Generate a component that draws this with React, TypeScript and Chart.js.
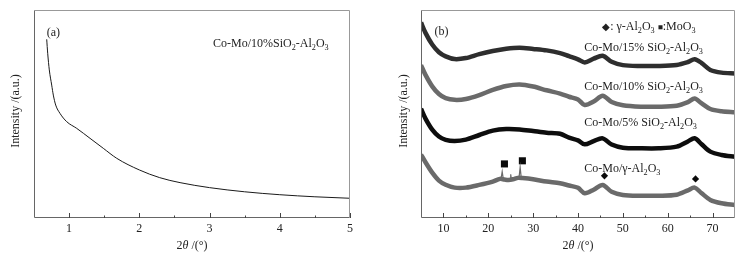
import React, { useEffect, useRef } from 'react';
import { Chart, registerables } from 'chart.js';
Chart.register(...registerables);

// ---------- Panel (a): small-angle XRD ----------
const thetaA = [0.681, 0.695, 0.718, 0.752, 0.775, 0.809, 0.87, 0.966, 1.108, 1.298, 1.487, 1.678, 2.0, 2.29, 2.58, 3.0, 3.5, 4.0, 4.5, 4.99];
const intensityA = [85.9, 79.2, 71.2, 63.9, 59.1, 54.3, 50.3, 46.3, 43.1, 38.3, 33.5, 28.7, 23.1, 19.4, 17.0, 14.6, 12.6, 11.2, 10.2, 9.5];
const majorTicksA = [1, 2, 3, 4, 5];
const minorTicksA = [1.5, 2.5, 3.5, 4.5];

// ---------- Panel (b): wide-angle XRD ----------
const thetaB = [5, 6, 7.5, 9, 10.5, 12.5, 15, 18, 21, 24, 27, 30, 33, 36, 38, 40, 41.5, 43.5, 45.5, 47.5, 50, 54, 58, 62, 64.5, 66, 67.5, 69.5, 72, 75];
const si15 = [94, 89, 83.4, 79.7, 77.7, 76.4, 76.9, 78.8, 80.3, 81.4, 81.9, 81.3, 80.6, 79.3, 77.8, 76.3, 74.8, 76.6, 78, 75.1, 73.5, 73.1, 73.1, 73.6, 75, 76.3, 74.6, 71.2, 69.9, 69.5];
const si10 = [73.5, 68.8, 63.3, 59.6, 57.6, 56.8, 57.2, 59.1, 61.6, 63.5, 64.2, 63.2, 61.4, 59.8, 58.3, 57, 54.3, 56, 58.8, 55.8, 54.2, 53.5, 53.5, 54, 55.7, 57.5, 55.2, 52.4, 51.3, 50.8];
const si5 = [52.5, 47.8, 42.5, 39.2, 37.6, 37, 37.7, 39.9, 42, 42.8, 42.6, 41.8, 41, 40.5, 38.6, 37.3, 35.4, 37, 38.3, 35.3, 33.8, 33.5, 33.5, 34.3, 36.8, 38.3, 35.6, 31.9, 30.3, 29.4];
const thetaG = [5, 6, 7.5, 9, 10.5, 12.5, 15, 18, 21, 22.6, 23.6, 24.5, 25.5, 26.6, 27.6, 30, 33, 36, 38, 40, 41.5, 43.5, 45.5, 47.5, 50, 54, 58, 62, 64.5, 66, 67.5, 69.5, 72, 75];
const gammaAl = [30.5, 26.8, 21.8, 18, 16, 14.6, 14.6, 15.9, 17.5, 18.8, 18.5, 18.3, 18.6, 19.3, 19.2, 18.6, 17.5, 16.7, 15.6, 14.5, 11.9, 13.6, 15.9, 12.6, 11.1, 10.7, 10.7, 11.2, 13.3, 14.6, 12, 8.7, 7.1, 6.2];
// sharp MoO3 reflections on the gamma-Al2O3 pattern (thin spikes)
const spikeX = [22.85, 23.1, 23.35, 24.85, 25.0, 25.15, 26.85, 27.1, 27.35];
const spikeY = [18.9, 22.3, 18.7, 18.4, 21.0, 18.5, 19.3, 24.4, 19.3];
const moo3X = [23.6, 27.6];
const moo3Y = [26, 27.5];
const gammaX = [45.9, 66.2];
const gammaY = [20.3, 18.8];
const majorTicksB = [10, 20, 30, 40, 50, 60, 70];
const minorTicksB = [15, 25, 35, 45, 55, 65];

type Run = { t: string; sub?: boolean; it?: boolean; scale?: number };
type Note = { x: number; y: number; runs: Run[] };

const FONT = '"Liberation Serif", "Times New Roman", serif';
const TEXT = '#222';
const FS = 12;

const notesA: Note[] = [
  { x: 0.68, y: 89.4, runs: [{ t: '(a)' }] },
  { x: 3.05, y: 84.1, runs: [{ t: 'Co-Mo/10%SiO' }, { t: '2', sub: true }, { t: '-Al' }, { t: '2', sub: true }, { t: 'O' }, { t: '3', sub: true }] },
];
const notesB: Note[] = [
  { x: 8.0, y: 90, runs: [{ t: '(b)' }] },
  { x: 45.4, y: 92.5, runs: [{ t: '◆', scale: 0.8 }, { t: ': γ-Al' }, { t: '2', sub: true }, { t: 'O' }, { t: '3', sub: true }, { t: ' ' }, { t: '■', scale: 0.7 }, { t: ':MoO' }, { t: '3', sub: true }] },
  { x: 41.4, y: 82.2, runs: [{ t: 'Co-Mo/15% SiO' }, { t: '2', sub: true }, { t: '-Al' }, { t: '2', sub: true }, { t: 'O' }, { t: '3', sub: true }] },
  { x: 41.4, y: 63.5, runs: [{ t: 'Co-Mo/10% SiO' }, { t: '2', sub: true }, { t: '-Al' }, { t: '2', sub: true }, { t: 'O' }, { t: '3', sub: true }] },
  { x: 41.4, y: 46.2, runs: [{ t: 'Co-Mo/5% SiO' }, { t: '2', sub: true }, { t: '-Al' }, { t: '2', sub: true }, { t: 'O' }, { t: '3', sub: true }] },
  { x: 41.4, y: 24.0, runs: [{ t: 'Co-Mo/γ-Al' }, { t: '2', sub: true }, { t: 'O' }, { t: '3', sub: true }] },
];
const xTitle: Run[] = [{ t: '2' }, { t: 'θ', it: true }, { t: ' /(°)' }];
const yTitle: Run[] = [{ t: 'Intensity /(a.u.)' }];

function drawRuns(ctx: CanvasRenderingContext2D, runs: Run[], x: number, y: number, size: number, align: 'left' | 'center') {
  const fontFor = (r: Run) => `${r.it ? 'italic ' : ''}${(r.sub ? size * 0.68 : size * (r.scale || 1)).toFixed(1)}px ${FONT}`;
  let total = 0;
  const widths = runs.map((r) => {
    ctx.font = fontFor(r);
    const w = ctx.measureText(r.t).width;
    total += w;
    return w;
  });
  let cx = align === 'center' ? x - total / 2 : x;
  ctx.textAlign = 'left';
  ctx.textBaseline = 'alphabetic';
  const base = y + size * 0.33;
  runs.forEach((r, i) => {
    ctx.font = fontFor(r);
    ctx.fillText(r.t, cx, r.sub ? base + size * 0.25 : base);
    cx += widths[i];
  });
}

function makeDecor(notes: Note[], major: number[], minor: number[], yTitleOffset: number) {
  return {
    id: 'decor',
    afterDraw(chart: any) {
      const { ctx, chartArea: a, scales } = chart;
      const xs = scales.x;
      const ys = scales.y;
      ctx.save();
      ctx.lineWidth = 1;
      ctx.strokeStyle = '#999';
      ctx.beginPath();
      ctx.moveTo(a.left + 0.5, a.top + 0.5);
      ctx.lineTo(a.right - 0.5, a.top + 0.5);
      ctx.lineTo(a.right - 0.5, a.bottom - 0.5);
      ctx.stroke();
      ctx.strokeStyle = '#666';
      ctx.beginPath();
      ctx.moveTo(a.left + 0.5, a.top + 0.5);
      ctx.lineTo(a.left + 0.5, a.bottom - 0.5);
      ctx.lineTo(a.right - 0.5, a.bottom - 0.5);
      ctx.stroke();
      ctx.strokeStyle = '#444';
      ctx.beginPath();
      major.forEach((v) => {
        const px = Math.round(xs.getPixelForValue(v)) + 0.5;
        ctx.moveTo(px, a.bottom);
        ctx.lineTo(px, a.bottom - 5);
      });
      minor.forEach((v) => {
        const px = Math.round(xs.getPixelForValue(v)) + 0.5;
        ctx.moveTo(px, a.bottom);
        ctx.lineTo(px, a.bottom - 2.5);
      });
      ctx.stroke();
      ctx.fillStyle = TEXT;
      notes.forEach((n) => drawRuns(ctx, n.runs, xs.getPixelForValue(n.x), ys.getPixelForValue(n.y), FS, 'left'));
      drawRuns(ctx, xTitle, (a.left + a.right) / 2, 245, FS, 'center');
      ctx.translate(a.left - yTitleOffset, (a.top + a.bottom) / 2 - 3);
      ctx.rotate(-Math.PI / 2);
      drawRuns(ctx, yTitle, 0, 0, FS, 'center');
      ctx.restore();
    },
  };
}

function scalesFor(min: number, max: number, ticks: number[], yWidth: number) {
  return {
    x: {
      type: 'linear',
      min,
      max,
      afterBuildTicks: (s: any) => {
        s.ticks = ticks.map((v) => ({ value: v }));
      },
      afterFit: (s: any) => {
        s.height = 39;
      },
      grid: { display: false, drawTicks: false },
      border: { display: false },
      ticks: { font: { family: FONT, size: FS }, color: TEXT, padding: 4, maxRotation: 0, autoSkip: false },
    },
    y: {
      type: 'linear',
      min: 0,
      max: 100,
      afterFit: (s: any) => {
        s.width = yWidth;
      },
      grid: { display: false, drawTicks: false },
      border: { display: false },
      ticks: { display: false },
    },
  };
}

const pts = (xs: number[], ys: number[]) => xs.map((x, i) => ({ x, y: ys[i] }));
// groups of three points (base, top, base) separated by gaps
const spikePts = (xs: number[], ys: number[]) => {
  const out: { x: number; y: number | null }[] = [];
  xs.forEach((x, i) => {
    out.push({ x, y: ys[i] });
    if (i % 3 === 2) out.push({ x: x + 0.01, y: null });
  });
  return out;
};

function configA(): any {
  return {
    type: 'line',
    data: {
      datasets: [
        { data: pts(thetaA, intensityA), borderColor: '#1a1a1a', borderWidth: 1, pointRadius: 0, cubicInterpolationMode: 'monotone' },
      ],
    },
    options: {
      responsive: false,
      animation: false,
      layout: { padding: { top: 10, right: 25, left: 0, bottom: 0 } },
      plugins: { legend: { display: false }, tooltip: { enabled: false } },
      scales: scalesFor(0.5, 5, majorTicksA, 34),
    },
    plugins: [makeDecor(notesA, majorTicksA, minorTicksA, 19)],
  };
}

function configB(): any {
  const line = (ys: number[], color: string, xs: number[] = thetaB) => ({
    data: pts(xs, ys),
    borderColor: color,
    borderWidth: 4.5,
    pointRadius: 0,
    tension: 0.3,
  });
  return {
    type: 'line',
    data: {
      datasets: [
        line(si15, '#2e2e2e'),
        line(si10, '#6a6a6a'),
        line(si5, '#0d0d0d'),
        line(gammaAl, '#6a6a6a', thetaG),
        { data: spikePts(spikeX, spikeY), borderColor: '#6a6a6a', borderWidth: 1.2, pointRadius: 0, spanGaps: false, tension: 0 },
        { data: pts(moo3X, moo3Y), showLine: false, pointStyle: 'rect', pointRadius: 5, backgroundColor: '#0a0a0a', borderWidth: 0 },
        { data: pts(gammaX, gammaY), showLine: false, pointStyle: 'rectRot', pointRadius: 3.6, backgroundColor: '#0a0a0a', borderWidth: 0 },
      ],
    },
    options: {
      responsive: false,
      animation: false,
      layout: { padding: { top: 10, right: 20, left: 0, bottom: 0 } },
      plugins: { legend: { display: false }, tooltip: { enabled: false } },
      scales: scalesFor(5, 75, majorTicksB, 41),
    },
    plugins: [makeDecor(notesB, majorTicksB, minorTicksB, 18)],
  };
}

function Panel({ left, width, make }: { left: number; width: number; make: () => any }) {
  const ref = useRef<HTMLCanvasElement>(null);
  useEffect(() => {
    const chart = new Chart(ref.current as HTMLCanvasElement, make());
    return () => chart.destroy();
  }, []);
  return (
    <div style={{ position: 'absolute', left, top: 0, width, height: 257 }}>
      <canvas ref={ref} width={width} height={257} style={{ width, height: 257, display: 'block' }} />
    </div>
  );
}

export default function App() {
  return (
    <div style={{ position: 'absolute', left: 0, top: 0, width: 755, height: 257, background: '#fff', overflow: 'hidden' }}>
      <Panel left={0} width={375} make={configA} />
      <Panel left={380} width={375} make={configB} />
    </div>
  );
}
